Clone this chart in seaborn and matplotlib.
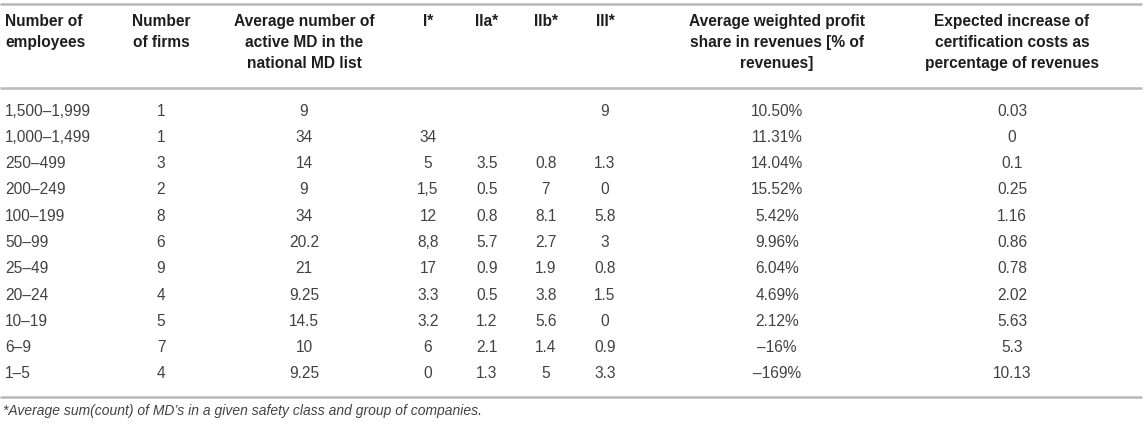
import matplotlib
matplotlib.use("Agg")
import matplotlib.pyplot as plt
import seaborn as sns

sns.set_theme(style="white")
plt.rcParams['font.family'] = ['Liberation Sans', 'DejaVu Sans']

# table contents
headers = ["Number of\nemployees", "Number\nof firms", "Average number of\nactive MD in the\nnational MD list",
           "I*", "IIa*", "IIb*", "III*",
           "Average weighted profit\nshare in revenues [% of\nrevenues]",
           "Expected increase of\ncertification costs as\npercentage of revenues"]
employees = ["1,500–1,999", "1,000–1,499", "250–499", "200–249", "100–199", "50–99",
             "25–49", "20–24", "10–19", "6–9", "1–5"]
firms = ["1", "1", "3", "2", "8", "6", "9", "4", "5", "7", "4"]
avg_md = ["9", "34", "14", "9", "34", "20.2", "21", "9.25", "14.5", "10", "9.25"]
class_i = ["", "34", "5", "1,5", "12", "8,8", "17", "3.3", "3.2", "6", "0"]
class_iia = ["", "", "3.5", "0.5", "0.8", "5.7", "0.9", "0.5", "1.2", "2.1", "1.3"]
class_iib = ["", "", "0.8", "7", "8.1", "2.7", "1.9", "3.8", "5.6", "1.4", "5"]
class_iii = ["9", "", "1.3", "0", "5.8", "3", "0.8", "1.5", "0", "0.9", "3.3"]
profit = ["10.50%", "11.31%", "14.04%", "15.52%", "5.42%", "9.96%", "6.04%",
          "4.69%", "2.12%", "–16%", "–169%"]
cost = ["0.03", "0", "0.1", "0.25", "1.16", "0.86", "0.78", "2.02", "5.63", "5.3", "10.13"]
footnote = "*Average sum(count) of MD’s in a given safety class and group of companies."

columns = [employees, firms, avg_md, class_i, class_iia, class_iib, class_iii, profit, cost]

# layout (pixel space)
col_x = [5, 161, 304, 428, 487, 546, 605, 777, 1012]
col_ha = ["left"] + ["center"] * 8
row_y0, row_h = 111, 26.3
text_col = "#424242"
head_col = "#1e1e1e"
line_col = "#b8b8b8"

fig = plt.figure(figsize=(11.45, 4.25), dpi=100)
ax = fig.add_axes([0, 0, 1, 1])
ax.set_xlim(0, 1145)
ax.set_ylim(425, 0)
ax.axis("off")

for y in [4, 88, 397]:
    ax.plot([0, 1142], [y, y], color=line_col, lw=1.8, solid_capstyle="butt")

for x, ha, h in zip(col_x, col_ha, headers):
    ax.text(x, 14, h, ha=ha, va="top", fontsize=11.2, fontweight="bold",
            color=head_col, linespacing=1.5, multialignment=ha)

for x, ha, vals in zip(col_x, col_ha, columns):
    for i, v in enumerate(vals):
        ax.text(x, row_y0 + i * row_h, v, ha=ha, va="center", fontsize=11.2, color=text_col)

ax.text(3, 411, footnote, ha="left", va="center", fontsize=10, style="italic", color=text_col)

fig.savefig("out.png", dpi=100)
